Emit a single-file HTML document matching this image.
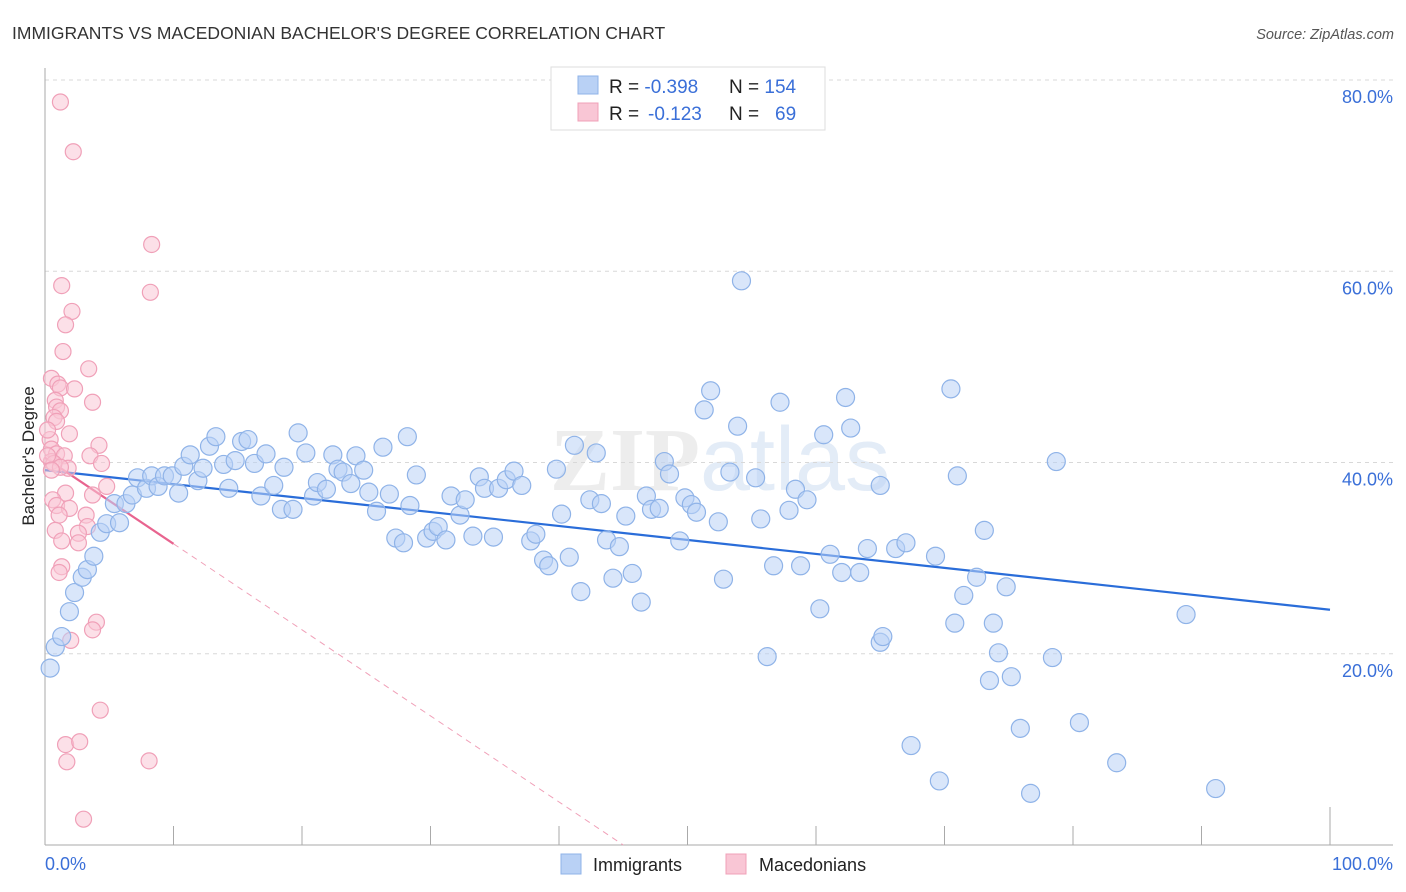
<!DOCTYPE html>
<html><head><meta charset="utf-8"><style>
html,body{margin:0;padding:0;background:#fff;}
svg{display:block;font-family:"Liberation Sans",sans-serif;}
</style></head><body>
<svg id="chart" width="1406" height="892" viewBox="0 0 1406 892">
<text x="12" y="39" font-size="17.5" fill="#333">IMMIGRANTS VS MACEDONIAN BACHELOR'S DEGREE CORRELATION CHART</text>
<text x="1394" y="39" font-size="14.5" fill="#555" font-style="italic" text-anchor="end">Source: ZipAtlas.com</text>
<text x="720" y="490" font-size="90" fill="#e6e6e6" text-anchor="middle" font-family="Liberation Serif,serif" font-weight="bold" opacity="0.7">ZIP<tspan font-family="Liberation Sans,sans-serif" font-weight="normal" fill="#d8e4f4">atlas</tspan></text>
<g id="grid"></g>
<g id="axes"></g>
<g id="trend"></g>
<g id="pts"></g>
<text transform="translate(34,456) rotate(-90)" font-size="17" fill="#222" text-anchor="middle">Bachelor's Degree</text>
<g>
<rect x="551" y="67" width="274" height="63" fill="#fff" stroke="#ddd"/>
<rect x="578" y="76" width="20" height="18" fill="#b9d1f5" stroke="#8fb3e8"/>
<rect x="578" y="103" width="20" height="18" fill="#f9c6d5" stroke="#f0a0b8"/>
<text x="609" y="93" font-size="19" fill="#222">R = <tspan fill="#3a6fd8">-0.398</tspan><tspan x="729">N = </tspan><tspan fill="#3a6fd8">154</tspan></text>
<text x="609" y="120" font-size="19" fill="#222">R = <tspan fill="#3a6fd8" x="648">-0.123</tspan><tspan x="729">N = </tspan><tspan fill="#3a6fd8" x="775">69</tspan></text>
</g>
<g>
<rect x="561" y="854" width="20" height="20" fill="#b9d1f5" stroke="#8fb3e8"/>
<text x="593" y="871" font-size="18" fill="#222">Immigrants</text>
<rect x="726" y="854" width="20" height="20" fill="#f9c6d5" stroke="#f0a0b8"/>
<text x="759" y="871" font-size="18" fill="#222">Macedonians</text>
</g>
</svg>
<script>
const yTicks=[20,40,60,80];
const yTickLabels=["20.0%","40.0%","60.0%","80.0%"];
const xTicks=[0,10,20,30,40,50,60,70,80,90,100];
const immX=[0.4,0.8,1.3,1.9,2.3,2.9,3.3,3.8,4.3,4.8,5.4,5.8,6.3,6.8,7.2,7.9,8.3,8.8,9.3,9.9,10.4,10.8,11.3,11.9,12.3,12.8,13.3,13.9,14.3,14.8,15.3,15.8,16.3,16.8,17.2,17.8,18.4,18.6,19.3,19.7,20.3,20.9,21.2,21.9,22.4,22.8,23.2,23.8,24.2,24.8,25.2,25.8,26.3,26.8,27.3,27.9,28.4,28.9,28.2,29.7,30.2,30.6,31.2,31.6,32.3,32.7,33.3,33.8,34.2,34.9,35.3,35.9,36.5,37.1,37.8,38.2,38.8,39.2,39.8,40.2,40.8,41.2,41.7,42.4,42.9,43.3,43.7,44.2,44.7,45.2,45.7,46.4,46.8,47.2,47.8,48.2,48.6,49.4,49.8,50.3,50.7,51.3,51.8,52.4,52.8,53.3,53.9,54.2,55.3,55.7,56.2,56.7,57.2,57.9,58.4,58.8,59.3,60.3,60.6,61.1,62.0,62.3,62.7,63.4,64.0,65.0,65.0,65.2,66.2,67.0,67.4,69.3,69.6,70.8,70.5,71.0,71.5,72.5,73.1,73.5,73.8,74.2,74.8,75.2,75.9,76.7,78.4,78.7,80.5,83.4,88.8,91.1];
const immY=[18.5,20.7,21.8,24.4,26.4,28.0,28.8,30.2,32.7,33.6,35.7,33.7,35.7,36.6,38.4,37.3,38.6,37.5,38.6,38.6,36.8,39.6,40.8,38.1,39.4,41.7,42.7,39.8,37.3,40.2,42.2,42.4,39.9,36.5,40.9,37.6,35.1,39.5,35.1,43.1,41.0,36.5,37.9,37.2,40.8,39.3,39.0,37.8,40.7,39.2,36.9,34.9,41.6,36.7,32.1,31.6,35.5,38.7,42.7,32.1,32.8,33.3,31.9,36.5,34.5,36.1,32.3,38.5,37.3,32.2,37.3,38.2,39.1,37.6,31.8,32.5,29.8,29.2,39.3,34.6,30.1,41.8,26.5,36.1,41.0,35.7,31.9,27.9,31.2,34.4,28.4,25.4,36.5,35.1,35.2,40.1,38.8,31.8,36.3,35.6,34.8,45.5,47.5,33.8,27.8,39.0,43.8,59.0,38.4,34.1,19.7,29.2,46.3,35.0,37.2,29.2,36.1,24.7,42.9,30.4,28.5,46.8,43.6,28.5,31.0,37.6,21.2,21.8,31.0,31.6,10.4,30.2,6.7,23.2,47.7,38.6,26.1,28.0,32.9,17.2,23.2,20.1,27.0,17.6,12.2,5.4,19.6,40.1,12.8,8.6,24.1,5.9];
const macX=[1.2,2.2,8.3,8.2,1.3,2.1,1.6,1.4,3.4,0.5,1.0,1.2,2.3,0.8,3.7,0.9,1.2,0.7,0.9,1.9,0.4,4.2,0.5,0.9,3.5,4.4,1.5,0.5,1.8,0.7,1.2,4.8,1.6,3.7,0.6,0.9,1.9,3.2,1.1,3.3,0.8,2.6,1.3,2.6,1.3,1.1,4.0,3.7,2.0,4.3,1.6,2.7,1.7,8.1,3.0,0.2,0.2,0.5];
const macY=[77.7,72.5,62.8,57.8,58.5,55.8,54.4,51.6,49.8,48.8,48.2,47.8,47.7,46.5,46.3,45.8,45.4,44.7,44.3,43.0,42.4,41.8,41.4,40.9,40.7,39.9,40.7,40.1,39.4,39.9,39.5,37.5,36.8,36.6,36.1,35.5,35.2,34.5,34.5,33.3,32.9,32.6,31.8,31.6,29.1,28.5,23.3,22.5,21.4,14.1,10.5,10.8,8.7,8.8,2.7,40.7,43.4,39.2];
const immTrend=[39.2,24.6];
const macTrend=[40.5,-0.9];
const NS="http://www.w3.org/2000/svg";
const X0=45,X1=1330,Y0=845,YS=9.5625;
function sx(v){return X0+(X1-X0)*v/100;}
function sy(v){return Y0-v*YS;}
function mk(tag,attrs,parent){const e=document.createElementNS(NS,tag);for(const k in attrs)e.setAttribute(k,attrs[k]);parent.appendChild(e);return e;}
const grid=document.getElementById('grid'),axes=document.getElementById('axes'),trend=document.getElementById('trend'),pts=document.getElementById('pts');
yTicks.forEach((t,i)=>{
 const l=mk('line',{x1:X0,x2:1393,y1:sy(t),y2:sy(t),stroke:'#d8d8d8','stroke-dasharray':'4,4'},grid);
 
 
 const tx=mk('text',{x:1393,y:sy(t)+23,'font-size':18,fill:'#3a6fd8','text-anchor':'end'},axes);
 tx.textContent=yTickLabels[i];
 
 
});
const ya=mk('line',{x1:X0,x2:X0,y1:68,y2:Y0,stroke:'#aaa'},axes);


const xa=mk('line',{x1:X0,x2:1393,y1:Y0,y2:Y0,stroke:'#aaa'},axes);


xTicks.forEach(t=>{
 const tk=mk('line',{x1:sx(t),x2:sx(t),y1:(t===100?807:826),y2:Y0,stroke:'#aaa'},axes);
 
 
});
const xl0=mk('text',{x:45,y:870,'font-size':18,fill:'#3a6fd8'},axes);xl0.textContent='0.0%';


const xl1=mk('text',{x:1393,y:870,'font-size':18,fill:'#3a6fd8','text-anchor':'end'},axes);xl1.textContent='100.0%';


macX.forEach((v,i)=>{
 const c=mk('circle',{cx:sx(v),cy:sy(macY[i]),r:8,fill:'#f9c6d5','fill-opacity':0.55,stroke:'#f0a0b8','stroke-width':1.2},pts);
 
 
});
immX.forEach((v,i)=>{
 const c=mk('circle',{cx:sx(v),cy:sy(immY[i]),r:9,fill:'#b9d1f5','fill-opacity':0.55,stroke:'#8fb3e8','stroke-width':1.2},pts);
 
 
});
const bt=mk('line',{x1:sx(0),y1:sy(immTrend[0]),x2:sx(100),y2:sy(immTrend[1]),stroke:'#2a6dd9','stroke-width':2.2},trend);


const pEnd=-macTrend[0]/macTrend[1];
const pd=mk('line',{x1:sx(10),y1:sy(macTrend[0]+macTrend[1]*10),x2:sx(pEnd),y2:sy(0),stroke:'#f0a0b8','stroke-width':1,'stroke-dasharray':'6,5'},trend);


const ps=mk('line',{x1:sx(0),y1:sy(macTrend[0]),x2:sx(10),y2:sy(macTrend[0]+macTrend[1]*10),stroke:'#e8648f','stroke-width':2.2},trend);


</script>
</body></html>
